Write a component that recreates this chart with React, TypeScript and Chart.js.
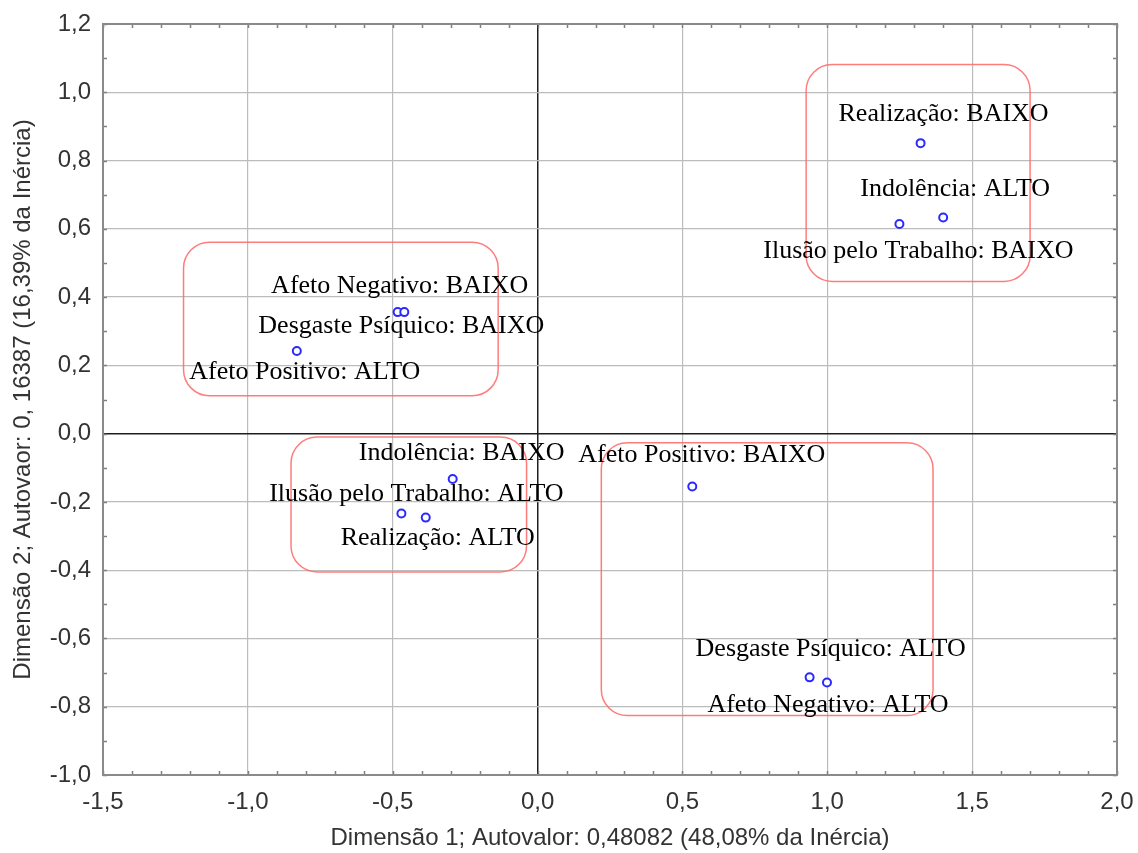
import React, { useEffect, useRef } from 'react';
import { Chart, registerables } from 'chart.js';

Chart.register(...registerables);

// ---- data ----
const pointLabels = [
  'Realização: BAIXO',
  'Indolência: ALTO',
  'Ilusão pelo Trabalho: BAIXO',
  'Afeto Negativo: BAIXO',
  'Desgaste Psíquico: BAIXO',
  'Afeto Positivo: ALTO',
  'Indolência: BAIXO',
  'Ilusão pelo Trabalho: ALTO',
  'Realização: ALTO',
  'Afeto Positivo: BAIXO',
  'Desgaste Psíquico: ALTO',
  'Afeto Negativo: ALTO',
];
const dim1Values = [1.322, 1.40, 1.249, -0.483, -0.46, -0.831, -0.293, -0.47, -0.386, 0.534, 0.939, 0.999];
const dim2Values = [0.851, 0.633, 0.614, 0.356, 0.356, 0.242, -0.133, -0.234, -0.246, -0.155, -0.714, -0.729];

// label offsets from their point (pixels)
const labelDx = [23, 12, 19, 2, -3, 8, 9, 15, 12, 9.5, 21, 1];
const labelDy = [-29, -28, 27, -26, 14.5, 21, -26, -19, 21, -31.5, -28, 23];

// grouping boxes (data units)
const boxLeft = [0.927, -1.222, -0.851, 0.22];
const boxRight = [1.70, -0.136, -0.038, 1.365];
const boxTop = [1.081, 0.561, -0.01, -0.027];
const boxBottom = [0.446, 0.111, -0.405, -0.826];

const xTickValues = [-1.5, -1.0, -0.5, 0.0, 0.5, 1.0, 1.5, 2.0];
const yTickValues = [-1.0, -0.8, -0.6, -0.4, -0.2, 0.0, 0.2, 0.4, 0.6, 0.8, 1.0, 1.2];
const xTitle = 'Dimensão 1; Autovalor: 0,48082 (48,08% da Inércia)';
const yTitle = 'Dimensão 2; Autovaor: 0, 16387 (16,39% da Inércia)';

const fmt = (v: number) => (Math.abs(v) < 1e-9 ? 0 : v).toFixed(1).replace('.', ',');

export default function App() {
  const ref = useRef<HTMLCanvasElement | null>(null);

  useEffect(() => {
    document.body.style.margin = '0';
    const canvas = ref.current;
    if (!canvas) return;

    const decor = {
      id: 'decor',
      beforeDatasetsDraw(chart: any) {
        const ctx = chart.ctx;
        const { left, right, top, bottom } = chart.chartArea;
        const xs = chart.scales.x;
        const ys = chart.scales.y;
        ctx.save();
        // minor ticks (inward) on all sides
        ctx.strokeStyle = '#808080';
        ctx.lineWidth = 1.5;
        const tl = 4;
        for (let i = -15; i <= 20; i++) {
          const px = Math.round(xs.getPixelForValue(i / 10)) + 0.5;
          ctx.beginPath();
          ctx.moveTo(px, bottom);
          ctx.lineTo(px, bottom - tl);
          ctx.moveTo(px, top);
          ctx.lineTo(px, top + tl);
          ctx.stroke();
        }
        for (let i = -10; i <= 12; i++) {
          const py = Math.round(ys.getPixelForValue(i / 10)) + 0.5;
          ctx.beginPath();
          ctx.moveTo(left, py);
          ctx.lineTo(left + tl, py);
          ctx.moveTo(right, py);
          ctx.lineTo(right - tl, py);
          ctx.stroke();
        }
        // frame
        ctx.strokeStyle = '#8a8a8a';
        ctx.lineWidth = 2;
        ctx.strokeRect(left, top, right - left, bottom - top);
        // boxes
        ctx.strokeStyle = 'rgba(255, 110, 110, 0.9)';
        ctx.lineWidth = 1.5;
        for (let i = 0; i < boxLeft.length; i++) {
          const x0 = xs.getPixelForValue(boxLeft[i]);
          const x1 = xs.getPixelForValue(boxRight[i]);
          const y0 = ys.getPixelForValue(boxTop[i]);
          const y1 = ys.getPixelForValue(boxBottom[i]);
          ctx.beginPath();
          (ctx as any).roundRect(x0, y0, x1 - x0, y1 - y0, 26);
          ctx.stroke();
        }
        ctx.restore();
      },
      afterDatasetsDraw(chart: any) {
        const ctx = chart.ctx;
        const xs = chart.scales.x;
        const ys = chart.scales.y;
        ctx.save();
        ctx.font = '26px "Liberation Serif", "Times New Roman", serif';
        ctx.fillStyle = '#000';
        ctx.textAlign = 'center';
        ctx.textBaseline = 'middle';
        for (let i = 0; i < pointLabels.length; i++) {
          const px = xs.getPixelForValue(dim1Values[i]);
          const py = ys.getPixelForValue(dim2Values[i]);
          ctx.fillText(pointLabels[i], px + labelDx[i], py + labelDy[i]);
        }
        ctx.restore();
      },
    };

    const gridColor = (c: any) =>
      c.tick && Math.abs(c.tick.value) < 1e-9 ? '#1e1e1e' : '#bcbcbc';
    const gridWidth = (c: any) =>
      c.tick && Math.abs(c.tick.value) < 1e-9 ? 1.5 : 1.2;

    const axisFont = { family: '"Liberation Sans", Arial, sans-serif', size: 24 };

    const chart = new Chart(canvas, {
      type: 'scatter',
      data: {
        datasets: [
          {
            label: 'pontos',
            data: dim1Values.map((x, i) => ({ x, y: dim2Values[i] })),
            pointStyle: 'circle',
            pointRadius: 4,
            pointBorderWidth: 2,
            borderColor: '#2a2aff',
            backgroundColor: '#ffffff',
            pointHoverRadius: 4,
          },
        ],
      },
      options: {
        animation: false,
        responsive: false,
        devicePixelRatio: 1,
        layout: { padding: { top: 24, right: 21, left: 0, bottom: 0 } },
        plugins: {
          legend: { display: false },
          tooltip: { enabled: false },
        },
        scales: {
          x: {
            type: 'linear',
            min: -1.5,
            max: 2.0,
            afterBuildTicks: (s: any) => {
              s.ticks = xTickValues.map((v) => ({ value: v }));
            },
            afterFit: (s: any) => {
              s.height = 78;
              s.paddingLeft = 0;
              s.paddingRight = 0;
            },
            grid: { color: gridColor, lineWidth: gridWidth, drawTicks: false },
            border: { display: false },
            ticks: {
              padding: 13,
              color: '#333333',
              font: axisFont,
              callback: (v: any) => fmt(Number(v)),
            },
            title: {
              display: true,
              text: xTitle,
              color: '#333333',
              padding: { top: 0, bottom: 0 },
              font: axisFont,
            },
          },
          y: {
            type: 'linear',
            min: -1.0,
            max: 1.2,
            afterBuildTicks: (s: any) => {
              s.ticks = yTickValues.map((v) => ({ value: v }));
            },
            afterFit: (s: any) => {
              s.width = 103;
              s.paddingTop = 0;
              s.paddingBottom = 0;
            },
            grid: { color: gridColor, lineWidth: gridWidth, drawTicks: false },
            border: { display: false },
            ticks: {
              padding: 12,
              color: '#333333',
              font: axisFont,
              callback: (v: any) => fmt(Number(v)),
            },
            title: {
              display: true,
              text: yTitle,
              color: '#333333',
              padding: { top: 9, bottom: 0 },
              font: axisFont,
            },
          },
        },
      },
      plugins: [decor],
    });

    return () => chart.destroy();
  }, []);

  return (
    <div style={{ width: 1138, height: 853, background: '#ffffff' }}>
      <canvas ref={ref} width={1138} height={853} />
    </div>
  );
}
